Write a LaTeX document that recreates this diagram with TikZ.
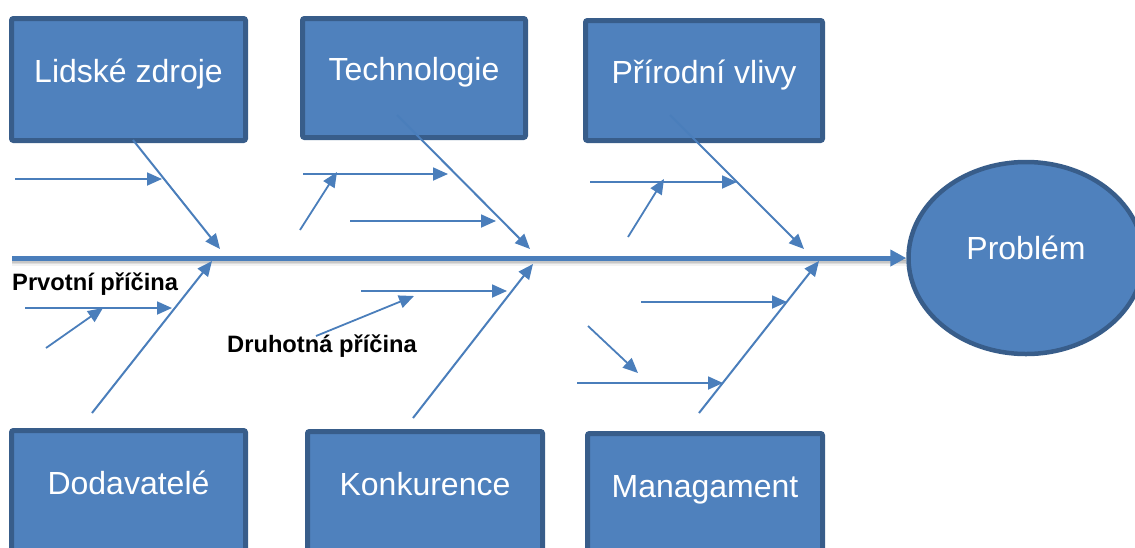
\documentclass[tikz,border=0pt]{standalone}
\usepackage{fontspec}
\setmainfont{Liberation Sans}
\usetikzlibrary{arrows.meta,shapes.geometric}
\definecolor{boxfill}{HTML}{4F81BD}
\definecolor{boxline}{HTML}{385D8A}
\definecolor{bonecol}{HTML}{4A7EBB}
\begin{document}
\begin{tikzpicture}[x=1pt,y=-1pt,
  catbox/.style={draw=boxline, fill=boxfill, line width=5pt, rounded corners=2pt,
    text=white, font=\fontsize{32}{36}\selectfont, text height=23pt, text depth=18pt,
    inner sep=0pt},
  probnode/.style={ellipse, draw=boxline, fill=boxfill, line width=4.5pt,
    text=white, font=\fontsize{32}{36}\selectfont, text height=23pt, text depth=21pt,
    inner sep=0pt, minimum width=235pt, minimum height=192pt},
  bonearrow/.style={draw=bonecol, line width=2pt, -{Triangle[length=15pt,width=13pt]}},
  subarrow/.style={draw=bonecol, line width=1.8pt, -{Triangle[length=15pt,width=13pt]}},
  spine/.style={draw=bonecol, line width=5pt, -{Triangle[length=16pt,width=16pt]}},
  causelbl/.style={font=\fontsize{23.7}{26}\selectfont\bfseries, text=black, inner sep=0pt, anchor=base west}]
\useasboundingbox (0,0) rectangle (1135,547);
\clip (0,0) rectangle (1135,547);

% category boxes
\node[catbox, minimum width=234pt, minimum height=122pt] (lz) at (128.5,79.5) {Lidské zdroje};
\node[catbox, minimum width=223pt, minimum height=119pt] (te) at (414,78) {Technologie};
\node[catbox, minimum width=237pt, minimum height=120pt] (pv) at (704,80.5) {Přírodní vlivy};
\node[catbox, minimum width=234pt, minimum height=122pt] (do) at (128.5,491.5) {Dodavatelé};
\node[catbox, minimum width=235pt, minimum height=122pt] (ko) at (425,492.5) {Konkurence};
\node[catbox, minimum width=235pt, minimum height=122pt] (ma) at (705,494.5) {Managament};

% problem
\node[probnode] (prob) at (1026,258) {Problém};

% spine with shadow
\coordinate (spS) at (12,258);
\foreach \d/\o in {1.5/0.18,3/0.14,4.5/0.09,6/0.05}
  \draw[line width=3pt, black, opacity=\o] ([yshift=-\d pt]spS) -- ([yshift=-\d pt]prob.west);
\draw[spine] (spS) -- (prob.west);

% main bones
\coordinate (b1s) at (133,140);  \coordinate (b1e) at (220,249);
\coordinate (b2s) at (397,115);  \coordinate (b2e) at (530,249);
\coordinate (b3s) at (670,115);  \coordinate (b3e) at (804,249);
\coordinate (b4s) at (92,413);   \coordinate (b4e) at (212,261);
\coordinate (b5s) at (413,418);  \coordinate (b5e) at (533,264);
\coordinate (b6s) at (699,413);  \coordinate (b6e) at (819,261);
\foreach \i in {1,...,6} \draw[bonearrow] (b\i s) -- (b\i e);

% secondary arrows
\coordinate (s1s) at (15,179);   \coordinate (s1e) at (162,179);
\coordinate (s2s) at (303,174);  \coordinate (s2e) at (448,174);
\coordinate (s3s) at (300,230);  \coordinate (s3e) at (337,172);
\coordinate (s4s) at (350,221);  \coordinate (s4e) at (496,221);
\coordinate (s5s) at (361,291);  \coordinate (s5e) at (507,291);
\coordinate (s6s) at (316,336);  \coordinate (s6e) at (414,296);
\coordinate (s7s) at (590,182);  \coordinate (s7e) at (737,182);
\coordinate (s8s) at (628,237);  \coordinate (s8e) at (664,179);
\coordinate (s9s) at (641,302);  \coordinate (s9e) at (787,302);
\coordinate (s10s) at (588,326); \coordinate (s10e) at (638,373);
\coordinate (s11s) at (577,383); \coordinate (s11e) at (723,383);
\coordinate (s12s) at (25,308);  \coordinate (s12e) at (172,308);
\coordinate (s13s) at (46,348);  \coordinate (s13e) at (103,308);
\foreach \i in {1,...,13} \draw[subarrow] (s\i s) -- (s\i e);

% labels
\node[causelbl] (prv) at (12,290) {Prvotní příčina};
\node[causelbl] (dru) at (227,352) {Druhotná příčina};
\end{tikzpicture}
\end{document}
